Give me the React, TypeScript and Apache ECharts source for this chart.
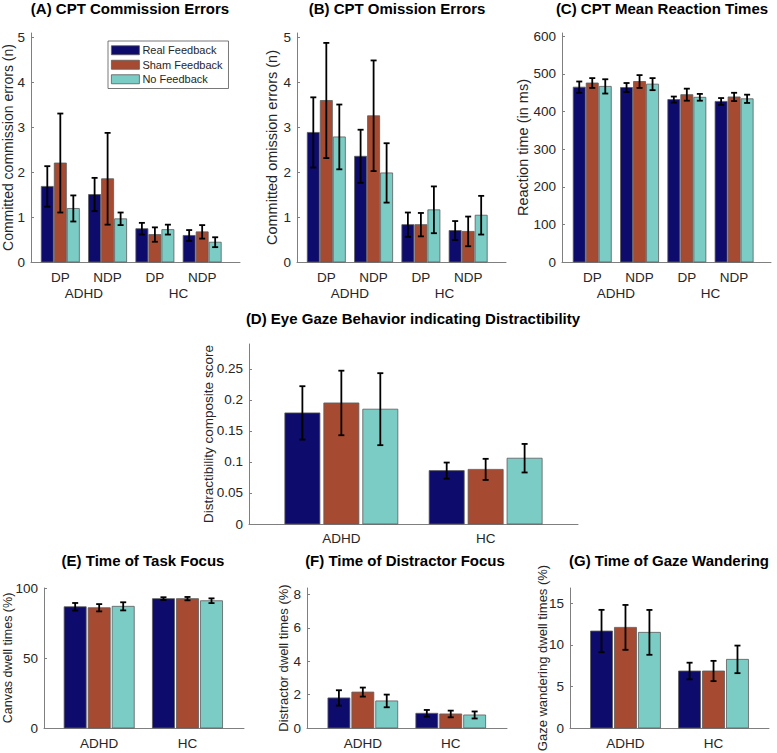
import React, { useEffect, useRef } from 'react';
import * as echarts from 'echarts';

// ---------- data ----------
const CONDITIONS = ['Real Feedback', 'Sham Feedback', 'No Feedback'];

const CPT_CATS = ['DP', 'NDP', 'DP', 'NDP'];
const CPT_GROUPS = ['ADHD', 'HC'];
const GAZE_CATS = ['ADHD', 'HC'];

// (A) commission errors
const commReal = [1.68, 1.5, 0.74, 0.59];
const commRealErr = [0.45, 0.37, 0.13, 0.12];
const commSham = [2.2, 1.85, 0.61, 0.67];
const commShamErr = [1.1, 1.02, 0.16, 0.15];
const commNo = [1.19, 0.96, 0.72, 0.44];
const commNoErr = [0.29, 0.14, 0.11, 0.11];

// (B) omission errors
const omReal = [2.88, 2.35, 0.83, 0.7];
const omRealErr = [0.78, 0.59, 0.27, 0.21];
const omSham = [3.59, 3.25, 0.83, 0.68];
const omShamErr = [1.28, 1.23, 0.26, 0.33];
const omNo = [2.78, 1.98, 1.16, 1.04];
const omNoErr = [0.72, 0.66, 0.52, 0.43];

// (C) reaction times
const rtReal = [465, 464, 432, 427];
const rtRealErr = [15, 12, 8, 9];
const rtSham = [476, 480, 445, 439];
const rtShamErr = [13, 17, 16, 11];
const rtNo = [467, 473, 438, 434];
const rtNoErr = [19, 16, 9, 11];

// (D) distractibility composite
const distReal = [0.179, 0.086];
const distRealErr = [0.043, 0.013];
const distSham = [0.195, 0.088];
const distShamErr = [0.052, 0.017];
const distNo = [0.185, 0.106];
const distNoErr = [0.058, 0.023];

// (E) canvas dwell
const canvasReal = [86.6, 92.4];
const canvasRealErr = [2.7, 1.0];
const canvasSham = [85.9, 92.4];
const canvasShamErr = [2.6, 1.2];
const canvasNo = [86.9, 90.9];
const canvasNoErr = [2.9, 1.7];

// (F) distractor dwell
const distrReal = [1.8, 0.88];
const distrRealErr = [0.46, 0.2];
const distrSham = [2.15, 0.84];
const distrShamErr = [0.27, 0.2];
const distrNo = [1.62, 0.78];
const distrNoErr = [0.38, 0.21];

// (G) gaze wandering dwell
const wanderReal = [11.67, 6.86];
const wanderRealErr = [2.55, 1.0];
const wanderSham = [12.11, 6.86];
const wanderShamErr = [2.7, 1.22];
const wanderNo = [11.51, 8.26];
const wanderNoErr = [2.7, 1.66];

// y tick labels
const ticksCount = [0, 1, 2, 3, 4, 5];
const ticksRT = [0, 100, 200, 300, 400, 500, 600];
const ticksDist = [0, 0.05, 0.1, 0.15, 0.2, 0.25];
const ticksCanvas = [0, 50, 100];
const ticksDistr = [0, 2, 4, 6, 8];
const ticksWander = [0, 5, 10, 15];

// ---------- styles / layout ----------
const COLORS = ['#0D0B6B', '#A64B32', '#7ACCC4'];
const FONT = '"Liberation Sans", Arial, Helvetica, sans-serif';
const TXT = '#262626';
const AXIS = '#7f7f7f';

type Panel = {
  title: string;
  titleX: number;
  titleY: number;
  grid: { left: number; top: number; width: number; height: number };
  xMin: number;
  xMax: number;
  yMax: number;
  yTicks: number[];
  cats: string[];
  groups?: string[];
  yName: string;
  yNameGap: number;
  yNameSize: number;
  values: number[][];
  errs: number[][];
  barW: number;
  step: number;
  labelMargin: number;
};

const panels: Panel[] = [
  {
    title: '(A) CPT Commission Errors', titleX: 130, titleY: 8,
    grid: { left: 31, top: 33, width: 209, height: 229 },
    xMin: 0.38, xMax: 4.8, yMax: 5.09, yTicks: ticksCount,
    cats: CPT_CATS, groups: CPT_GROUPS,
    yName: 'Committed commission errors (n)', yNameGap: 16, yNameSize: 14,
    values: [commReal, commSham, commNo], errs: [commRealErr, commShamErr, commNoErr],
    barW: 0.255, step: 0.275, labelMargin: 8,
  },
  {
    title: '(B) CPT Omission Errors', titleX: 397, titleY: 8,
    grid: { left: 297, top: 33, width: 209, height: 229 },
    xMin: 0.38, xMax: 4.8, yMax: 5.09, yTicks: ticksCount,
    cats: CPT_CATS, groups: CPT_GROUPS,
    yName: 'Committed omission errors (n)', yNameGap: 18, yNameSize: 14.5,
    values: [omReal, omSham, omNo], errs: [omRealErr, omShamErr, omNoErr],
    barW: 0.255, step: 0.275, labelMargin: 8,
  },
  {
    title: '(C) CPT Mean Reaction Times', titleX: 662, titleY: 8,
    grid: { left: 562, top: 33, width: 209, height: 229 },
    xMin: 0.36, xMax: 4.78, yMax: 609, yTicks: ticksRT,
    cats: CPT_CATS, groups: CPT_GROUPS,
    yName: 'Reaction time (in ms)', yNameGap: 31.5, yNameSize: 14.5,
    values: [rtReal, rtSham, rtNo], errs: [rtRealErr, rtShamErr, rtNoErr],
    barW: 0.255, step: 0.275, labelMargin: 8,
  },
  {
    title: '(D) Eye Gaze Behavior indicating Distractibility', titleX: 413, titleY: 318,
    grid: { left: 249, top: 344, width: 329, height: 180 },
    xMin: 0.36, xMax: 2.64, yMax: 0.29, yTicks: ticksDist,
    cats: GAZE_CATS,
    yName: 'Distractibility composite score', yNameGap: 34, yNameSize: 13.5,
    values: [distReal, distSham, distNo], errs: [distRealErr, distShamErr, distNoErr],
    barW: 0.243, step: 0.27, labelMargin: 7,
  },
  {
    title: '(E) Time of Task Focus', titleX: 143, titleY: 560,
    grid: { left: 44, top: 588, width: 200, height: 140 },
    xMin: 0.375, xMax: 2.64, yMax: 100, yTicks: ticksCanvas,
    cats: GAZE_CATS,
    yName: 'Canvas dwell times (%)', yNameGap: 29.5, yNameSize: 12.5,
    values: [canvasReal, canvasSham, canvasNo], errs: [canvasRealErr, canvasShamErr, canvasNoErr],
    barW: 0.25, step: 0.272, labelMargin: 8,
  },
  {
    title: '(F) Time of Distractor Focus', titleX: 405, titleY: 560,
    grid: { left: 307, top: 588, width: 200, height: 140 },
    xMin: 0.365, xMax: 2.64, yMax: 8.38, yTicks: ticksDistr,
    cats: GAZE_CATS,
    yName: 'Distractor dwell times (%)', yNameGap: 17.5, yNameSize: 13,
    values: [distrReal, distrSham, distrNo], errs: [distrRealErr, distrShamErr, distrNoErr],
    barW: 0.25, step: 0.272, labelMargin: 8,
  },
  {
    title: '(G) Time of Gaze Wandering', titleX: 669, titleY: 560,
    grid: { left: 570, top: 588, width: 199, height: 140 },
    xMin: 0.37, xMax: 2.63, yMax: 16.85, yTicks: ticksWander,
    cats: GAZE_CATS,
    yName: 'Gaze wandering dwell times (%)', yNameGap: 21.5, yNameSize: 13,
    values: [wanderReal, wanderSham, wanderNo], errs: [wanderRealErr, wanderShamErr, wanderNoErr],
    barW: 0.25, step: 0.272, labelMargin: 8,
  },
];

const fmtNum = (v: number) => String(+Number(v).toFixed(4));

function makeRender(offset: number, width: number, color: string) {
  return (_params: any, api: any) => {
    const x = api.value(0) as number;
    const y = api.value(1) as number;
    const e = api.value(2) as number;
    const cx = x + offset;
    const tl = api.coord([cx - width / 2, y]);
    const br = api.coord([cx + width / 2, 0]);
    const top = api.coord([cx, y + e]);
    const bot = api.coord([cx, y - e]);
    const cap = 3;
    const es = { stroke: '#000', lineWidth: 1.8 };
    return {
      type: 'group',
      children: [
        {
          type: 'rect',
          shape: { x: tl[0], y: tl[1], width: br[0] - tl[0], height: br[1] - tl[1] },
          style: { fill: color, stroke: '#5c5c5c', lineWidth: 0.8 },
        },
        { type: 'line', shape: { x1: top[0], y1: top[1], x2: bot[0], y2: bot[1] }, style: es },
        { type: 'line', shape: { x1: top[0] - cap, y1: top[1], x2: top[0] + cap, y2: top[1] }, style: es },
        { type: 'line', shape: { x1: bot[0] - cap, y1: bot[1], x2: bot[0] + cap, y2: bot[1] }, style: es },
      ],
    };
  };
}

function buildOption() {
  const grids: any[] = [];
  const xAxes: any[] = [];
  const yAxes: any[] = [];
  const series: any[] = [];
  const graphics: any[] = [];

  panels.forEach((p, gi) => {
    grids.push({ ...p.grid, containLabel: false, outerBoundsMode: 'none' });
    const catValues = p.cats.map((_, i) => i + 1);
    const mainX = xAxes.length;
    xAxes.push({
      type: 'value', gridIndex: gi, min: p.xMin, max: p.xMax, position: 'bottom',
      axisLine: { show: true, onZero: false, lineStyle: { color: AXIS, width: 1 } },
      axisTick: { show: false },
      splitLine: { show: false },
      axisLabel: {
        customValues: catValues,
        margin: p.labelMargin,
        color: TXT, fontSize: 13.5, fontFamily: FONT,
        formatter: (v: number) => p.cats[Math.round(v) - 1] ?? '',
      },
    });
    if (p.groups) {
      const groups = p.groups;
      xAxes.push({
        type: 'value', gridIndex: gi, min: p.xMin, max: p.xMax, position: 'bottom', offset: 16,
        axisLine: { show: false }, axisTick: { show: false }, splitLine: { show: false },
        axisLabel: {
          customValues: groups.map((_, i) => 1.5 + 2 * i),
          margin: p.labelMargin,
          color: TXT, fontSize: 13.5, fontFamily: FONT,
          formatter: (v: number) => groups[Math.round((v - 1.5) / 2)] ?? '',
        },
      });
    }
    yAxes.push({
      type: 'value', gridIndex: gi, min: 0, max: p.yMax,
      name: p.yName, nameLocation: 'middle', nameRotate: 90, nameGap: p.yNameGap,
      nameMoveOverlap: false,
      nameTextStyle: { color: TXT, fontSize: p.yNameSize, fontFamily: FONT },
      axisLine: { show: true, lineStyle: { color: AXIS, width: 1 } },
      axisTick: { show: true, inside: true, length: 3, customValues: p.yTicks, lineStyle: { color: AXIS } },
      splitLine: { show: false },
      axisLabel: {
        customValues: p.yTicks, margin: 6,
        color: TXT, fontSize: 13.5, fontFamily: FONT,
        formatter: (v: number) => fmtNum(v),
      },
    });
    CONDITIONS.forEach((name, ci) => {
      const vals = p.values[ci];
      const errs = p.errs[ci];
      series.push({
        type: 'custom',
        name,
        xAxisIndex: mainX,
        yAxisIndex: gi,
        clip: false,
        itemStyle: { color: COLORS[ci], borderColor: '#5c5c5c', borderWidth: 0.8 },
        encode: { x: 0, y: 1 },
        data: vals.map((v, i) => [i + 1, v, errs[i]]),
        renderItem: makeRender((ci - 1) * p.step, p.barW, COLORS[ci]),
      });
    });
    graphics.push({
      type: 'text', x: p.titleX, y: p.titleY,
      style: {
        text: p.title, fill: '#000', align: 'center', verticalAlign: 'middle',
        font: `bold 15px ${FONT}`,
      },
    });
  });

  return {
    animation: false,
    backgroundColor: '#fff',
    grid: grids,
    xAxis: xAxes,
    yAxis: yAxes,
    series,
    graphic: graphics,
    legend: {
      show: true,
      orient: 'vertical',
      left: 108,
      top: 41,
      selectedMode: false,
      padding: [3, 6, 3, 3],
      itemGap: 2,
      itemWidth: 28,
      itemHeight: 9,
      borderColor: '#555',
      borderWidth: 0.8,
      backgroundColor: '#fff',
      textStyle: { color: TXT, fontSize: 11, lineHeight: 12.5, fontFamily: FONT, padding: [0, 0, 0, -2] },
      data: CONDITIONS.map((name, ci) => ({
        name,
        icon: 'rect',
        itemStyle: { color: COLORS[ci], borderColor: '#5c5c5c', borderWidth: 0.8 },
      })),
    },
  };
}

export default function App() {
  const ref = useRef<HTMLDivElement>(null);
  useEffect(() => {
    document.body.style.margin = '0';
    if (!ref.current) return;
    const chart = echarts.init(ref.current, null, { renderer: 'svg' });
    chart.setOption(buildOption() as any);
    return () => chart.dispose();
  }, []);
  return (
    <div
      ref={ref}
      style={{ position: 'absolute', left: 0, top: 0, width: 777, height: 753, background: '#fff' }}
    />
  );
}
